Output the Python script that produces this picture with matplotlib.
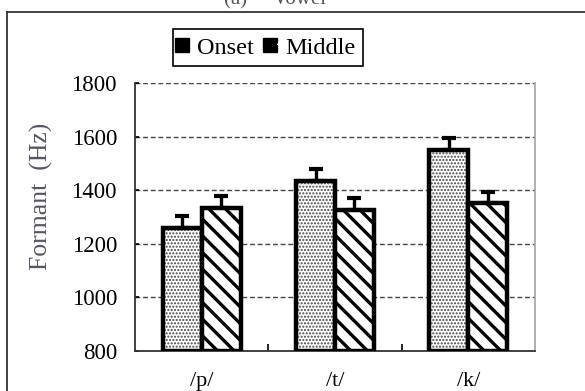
import numpy as np
import matplotlib
matplotlib.use('Agg')
import matplotlib.pyplot as plt
from matplotlib.lines import Line2D
from matplotlib.legend_handler import HandlerTuple

# Mean formant frequency and its upper error per place of articulation
places = ['/p/', '/t/', '/k/']
onset = [1260, 1435, 1550]
middle = [1333, 1327, 1353]
onset_err = [42, 43, 44]
middle_err = [44, 44, 42]
yticks = [800, 1000, 1200, 1400, 1600, 1800]

plt.rcParams['font.family'] = ['Liberation Serif', 'DejaVu Serif']
plt.rcParams['hatch.linewidth'] = 2.4

fig = plt.figure(figsize=(5.85, 3.91), dpi=100)
ax = fig.add_axes([135/585, 1 - 351/391, 400/585, 268/391])

x = np.arange(len(places))
w = 0.292

# gridlines under the bars
ax.set_axisbelow(True)
ax.yaxis.grid(True, linestyle=(0, (3.5, 2)), color='#444444', linewidth=1.0)

# dotted onset bars: gray dot texture, then the thick black outline
with plt.rc_context({'hatch.linewidth': 1.0}):
    ax.bar(x - w/2, np.array(onset) - 800, w, bottom=800, color='white',
           edgecolor='#444444', hatch='.....', linewidth=0)
ax.bar(x - w/2, np.array(onset) - 800, w, bottom=800, fill=False,
       edgecolor='black', linewidth=3.2, zorder=3)
# striped middle bars
ax.bar(x + w/2, np.array(middle) - 800, w, bottom=800, color='white',
       edgecolor='black', hatch='\\\\', linewidth=3.2, zorder=3)

ax.errorbar(x - w/2, onset, yerr=[np.zeros(3), onset_err], fmt='none',
            ecolor='black', elinewidth=2.4, capsize=5, capthick=3, zorder=2)
ax.errorbar(x + w/2, middle, yerr=[np.zeros(3), middle_err], fmt='none',
            ecolor='black', elinewidth=2.4, capsize=5, capthick=3, zorder=2)

ax.set_xlim(-0.5, 2.5)
ax.set_ylim(800, 1800)
ax.set_yticks(yticks)
ax.set_xticks(x)
ax.set_xticklabels(places)
ax.set_xticks([0.5, 1.5], minor=True)
ax.tick_params(axis='x', which='major', length=0, pad=15, labelsize=16)
ax.tick_params(axis='x', which='minor', direction='in', length=5, width=1.2)
ax.tick_params(axis='y', direction='in', length=3, width=1.2, pad=13, labelsize=16.5)

ax.spines['top'].set_visible(False)
ax.spines['left'].set_color('#333333')
ax.spines['left'].set_linewidth(1.3)
ax.spines['bottom'].set_color('#333333')
ax.spines['bottom'].set_linewidth(1.3)
ax.spines['right'].set_color('#aaaaaa')
ax.spines['right'].set_linewidth(1.3)

ax.set_ylabel('Formant  (Hz)', fontsize=18.5, color='#555566')
ax.yaxis.set_label_coords(-0.205, 0.578)

# legend handles: black squares with a small white glyph
h_onset = (Line2D([], [], marker='s', color='black', markersize=10, linestyle='none'),
           Line2D([], [], marker='s', color='white', markersize=3, linestyle='none'))
h_middle = (Line2D([], [], marker='s', color='black', markersize=10, linestyle='none'),
            Line2D([], [], marker=(2, 2, 60), color='white', markersize=6,
                   markeredgewidth=2, linestyle='none'))
leg = fig.legend([h_onset, h_middle], ['Onset', 'Middle'], loc='center',
                 bbox_to_anchor=(268/585, 1 - 47.5/391), ncol=2, fontsize=17.5,
                 fancybox=False, framealpha=1, edgecolor='black',
                 handlelength=0.6, handletextpad=0.1, columnspacing=0.6,
                 borderpad=0.3, handler_map={tuple: HandlerTuple(ndivide=None)})
leg.get_frame().set_linewidth(1.2)

# outer frame around the panel
fx, fy = 7/585, 1 - 12/391
fig.add_artist(Line2D([fx, fx], [0, fy], color='#333333', linewidth=1.3))
fig.add_artist(Line2D([fx, 1], [fy, fy], color='#333333', linewidth=1.3))

fig.text(0.47, 1.0, '(a)     Vowel', ha='center', va='center', fontsize=15, color='#555555')

fig.savefig('out.png', dpi=100)
